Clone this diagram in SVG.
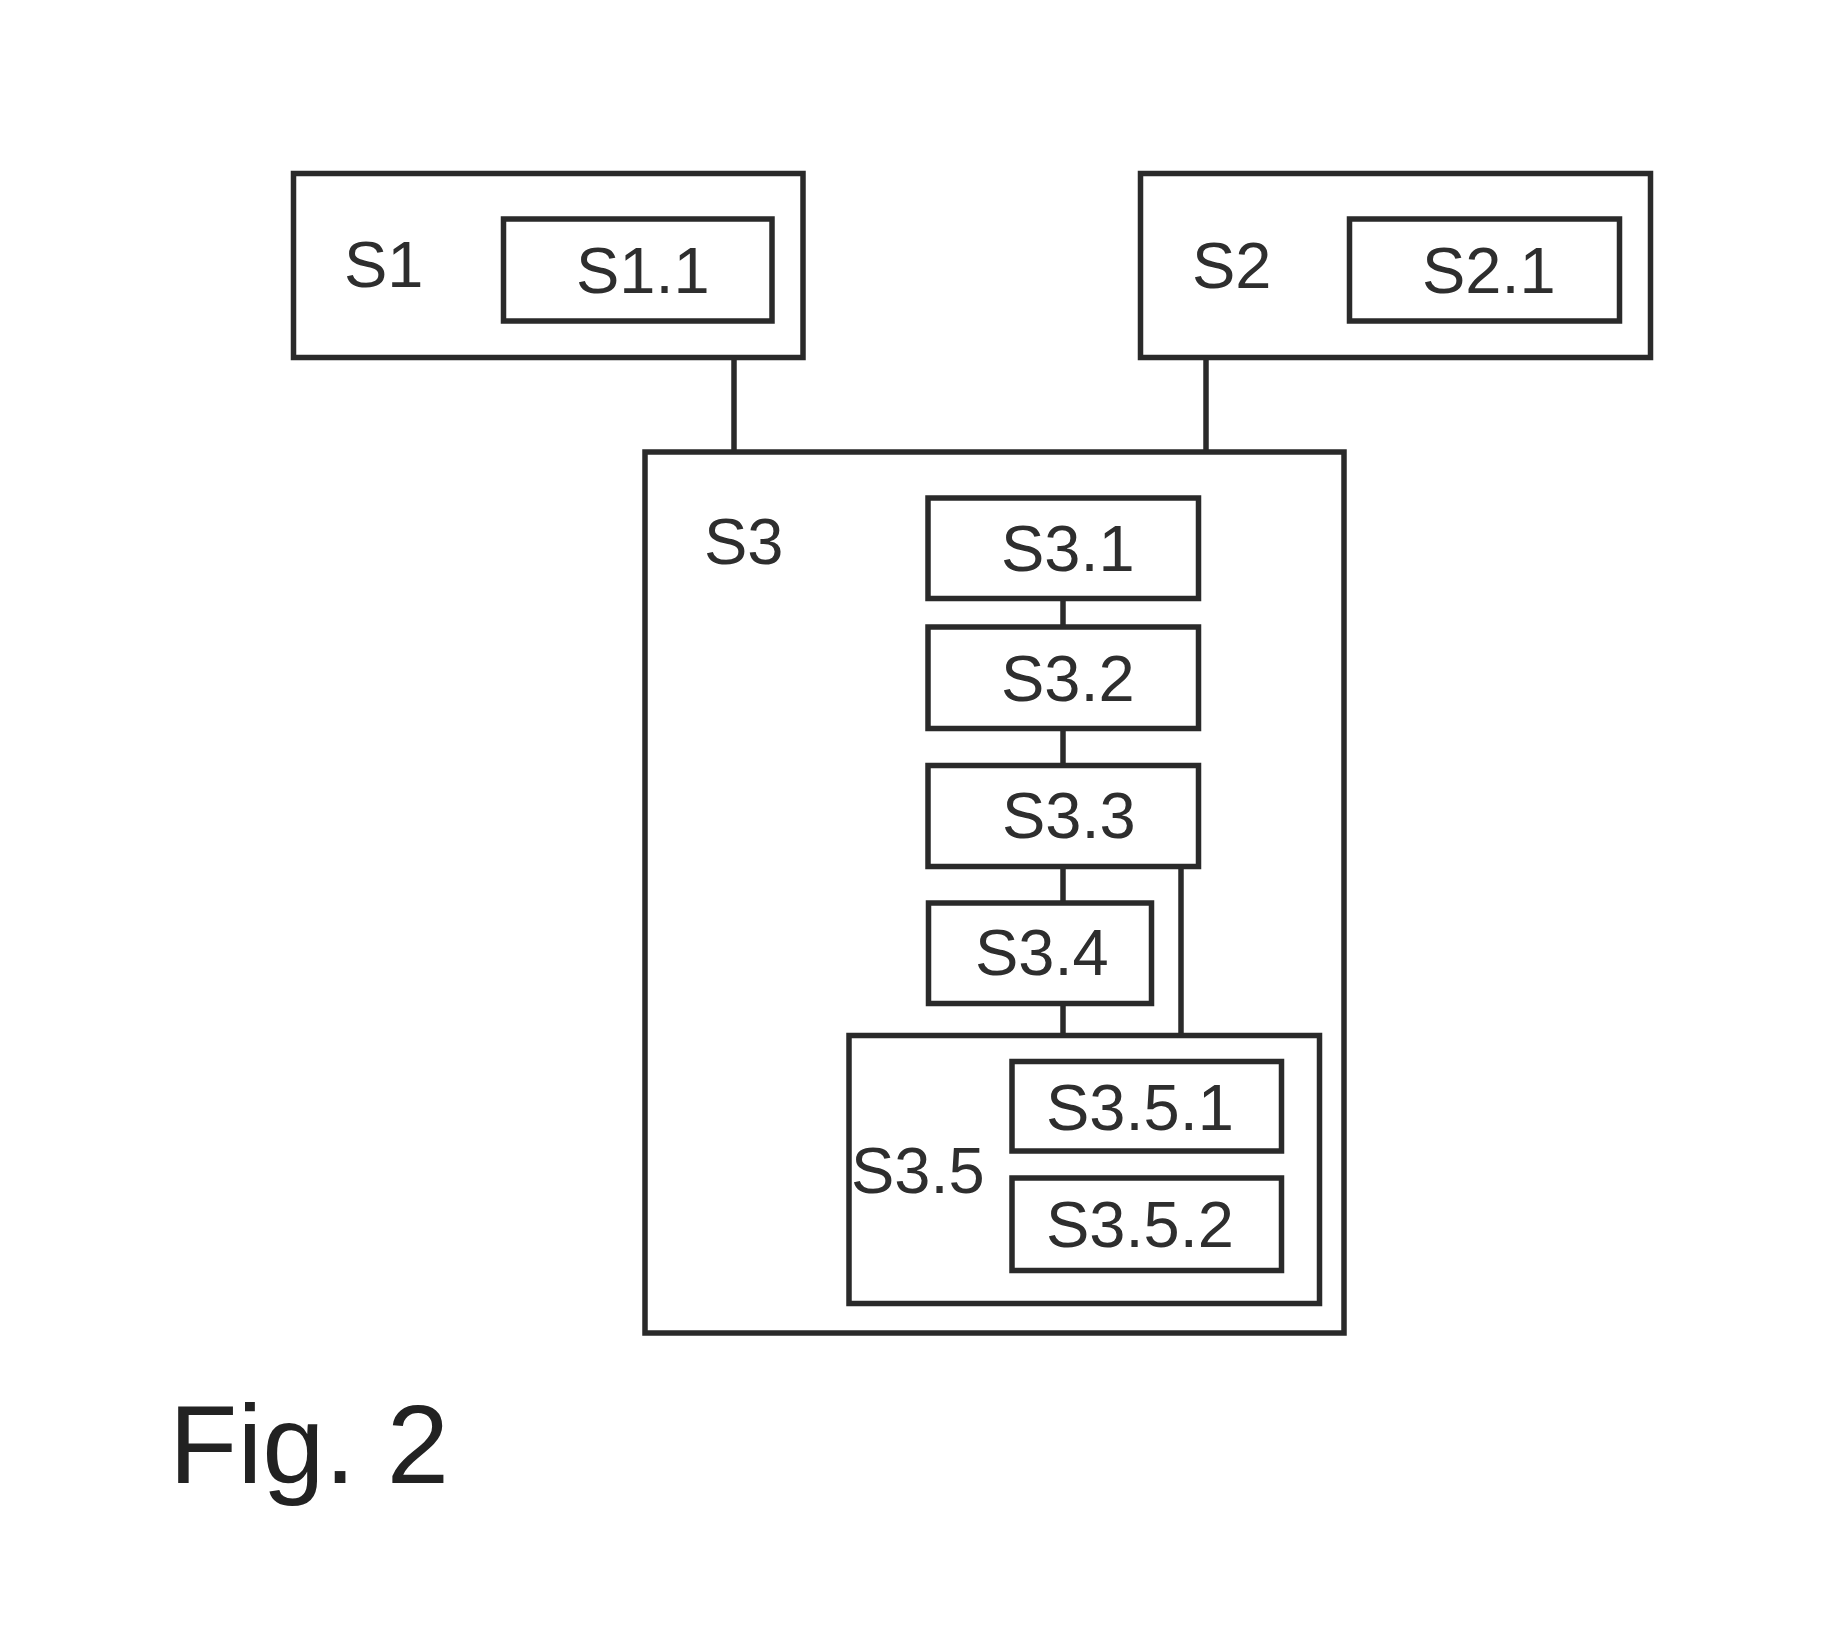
<svg xmlns="http://www.w3.org/2000/svg" width="1847" height="1631" viewBox="0 0 1847 1631">
<style>
.box{fill:none;stroke:#2a2a2a;stroke-width:5.5}
.con{stroke:#2a2a2a;stroke-width:5.5;fill:none}
.lbl{font-family:"Liberation Sans",Arial,sans-serif;font-size:65px;fill:#2e2e2e}
.fig{font-family:"Liberation Sans",Arial,sans-serif;font-size:112px;fill:#222}
</style>
<rect x="0" y="0" width="1847" height="1631" fill="#fff"/>
<g id="connectors">
<line class="con" x1="734" y1="357.5" x2="734" y2="452"/>
<line class="con" x1="1206" y1="357.5" x2="1206" y2="452"/>
<line class="con" x1="1063" y1="598.5" x2="1063" y2="627"/>
<line class="con" x1="1063" y1="728.5" x2="1063" y2="765.5"/>
<line class="con" x1="1063" y1="866.5" x2="1063" y2="903"/>
<line class="con" x1="1063" y1="1003.5" x2="1063" y2="1035.5"/>
<line class="con" x1="1181" y1="866.5" x2="1181" y2="1035.5"/>
</g>
<g id="S1">
<rect class="box" x="293.5" y="173.5" width="509.5" height="184"/>
<text class="lbl" x="344" y="287">S1</text>
</g>
<g id="S1.1">
<rect class="box" x="503.5" y="219" width="268.5" height="102"/>
<text class="lbl" x="576" y="293">S1.1</text>
</g>
<g id="S2">
<rect class="box" x="1140.5" y="173.5" width="510" height="184"/>
<text class="lbl" x="1192" y="288">S2</text>
</g>
<g id="S2.1">
<rect class="box" x="1349.5" y="219" width="270" height="102"/>
<text class="lbl" x="1422" y="293">S2.1</text>
</g>
<g id="S3">
<rect class="box" x="645" y="452" width="699" height="881"/>
<text class="lbl" x="704" y="564">S3</text>
</g>
<g id="S3.1">
<rect class="box" x="928" y="498" width="270.5" height="100.5"/>
<text class="lbl" x="1001" y="571">S3.1</text>
</g>
<g id="S3.2">
<rect class="box" x="928" y="627" width="270.5" height="101.5"/>
<text class="lbl" x="1001" y="701">S3.2</text>
</g>
<g id="S3.3">
<rect class="box" x="928" y="765.5" width="270.5" height="101"/>
<text class="lbl" x="1002" y="838">S3.3</text>
</g>
<g id="S3.4">
<rect class="box" x="928.5" y="903" width="223" height="100.5"/>
<text class="lbl" x="975" y="975">S3.4</text>
</g>
<g id="S3.5">
<rect class="box" x="849" y="1035.5" width="470.5" height="268"/>
<text class="lbl" x="851" y="1193">S3.5</text>
</g>
<g id="S3.5.1">
<rect class="box" x="1012" y="1061.5" width="269.5" height="89.5"/>
<text class="lbl" x="1046" y="1130">S3.5.1</text>
</g>
<g id="S3.5.2">
<rect class="box" x="1012" y="1178" width="269.5" height="92.5"/>
<text class="lbl" x="1046" y="1247">S3.5.2</text>
</g>
<text class="fig" x="169" y="1483">Fig. 2</text>
</svg>
